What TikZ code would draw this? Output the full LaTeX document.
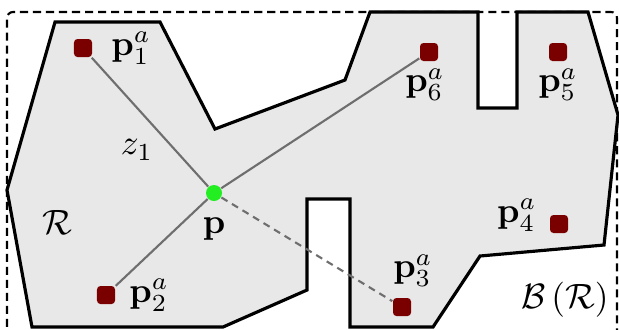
\documentclass[tikz,border=0pt]{standalone}
\usepackage{amsmath, amssymb}
\usepackage{tikz}
\usepackage{xcolor}
\usetikzlibrary{positioning, calc}
\definecolor{regionFill}{HTML}{E8E8E8}
\definecolor{anchorRed} {HTML}{7A0000}
\definecolor{posGreen}  {HTML}{22EE22}
\definecolor{linkGray}  {HTML}{6E6E6E}
\tikzset{
  anchorbox/.style={rectangle, fill=anchorRed, minimum size=1.8mm, inner sep=0pt, rounded corners=0.35mm},
  posdot/.style={circle, fill=posGreen, minimum size=1.6mm, inner sep=0pt},
  lab/.style={inner sep=0pt},
  link/.style={draw=linkGray, line width=0.6pt},
}

\begin{document}
\begin{tikzpicture}[x=0.01cm, y=0.01cm]
  \useasboundingbox (0,0) rectangle (619,329);
  \clip (0,0) rectangle (619,329);
  % dashed bounding box B(R)
  \draw[line width=0.6pt, dash pattern=on 2.3pt off 1.4pt, rounded corners=0.6mm]
        (7,-30) rectangle (617,317);
  % region R with its two slots
  \draw[fill=regionFill, line width=0.9pt]
        (55,307) -- (160,307) -- (215,200) -- (345,249) -- (370,317)
        -- (478,317) -- (478,221) -- (517,221) -- (517,317)
        -- (588,317) -- (618,214) -- (604,84) -- (480,73) -- (433,2)
        -- (350,2) -- (350,130) -- (307,130) -- (307,39) -- (223,2)
        -- (32,2) -- (7,139) -- cycle;
  % anchors
  \foreach \i/\x/\y in {1/83/281, 2/106/34, 3/402/22, 4/559/105, 5/558/277, 6/429/277}{
    \node[anchorbox] (a\i) at (\x,\y) {};
  }
  \node[posdot] (p) at (214,136) {};
  \draw[link] (a1) -- (p);
  \draw[link] (a6) -- (p);
  \draw[link] (a2) -- (p);
  \draw[link, dash pattern=on 2pt off 1.5pt] (p) -- (a3);
  % labels
  \node[lab, right=1.8mm of a1] (l1) {$\mathbf{p}^a_1$};
  \node[lab, right=1.3mm of a2] (l2) {$\mathbf{p}^a_2$};
  \node[lab, above=1mm of a3, xshift=1.1mm] (l3) {$\mathbf{p}^a_3$};
  \node[lab, left=1.2mm of a4, yshift=0.9mm] (l4) {$\mathbf{p}^a_4$};
  \node[lab, below=0.6mm of a5] (l5) {$\mathbf{p}^a_5$};
  \node[lab, below=0.6mm of a6, xshift=-0.4mm] (l6) {$\mathbf{p}^a_6$};
  \node[lab, below=1.5mm of p] (lp) {$\mathbf{p}$};
  \node[lab] (lz) at (137,179) {$z_1$};
  \node[lab] (lR) at (57,107) {$\mathcal{R}$};
  \node[lab] (lB) at (565,29) {$\mathcal{B}\left(\mathcal{R}\right)$};
\end{tikzpicture}
\end{document}
